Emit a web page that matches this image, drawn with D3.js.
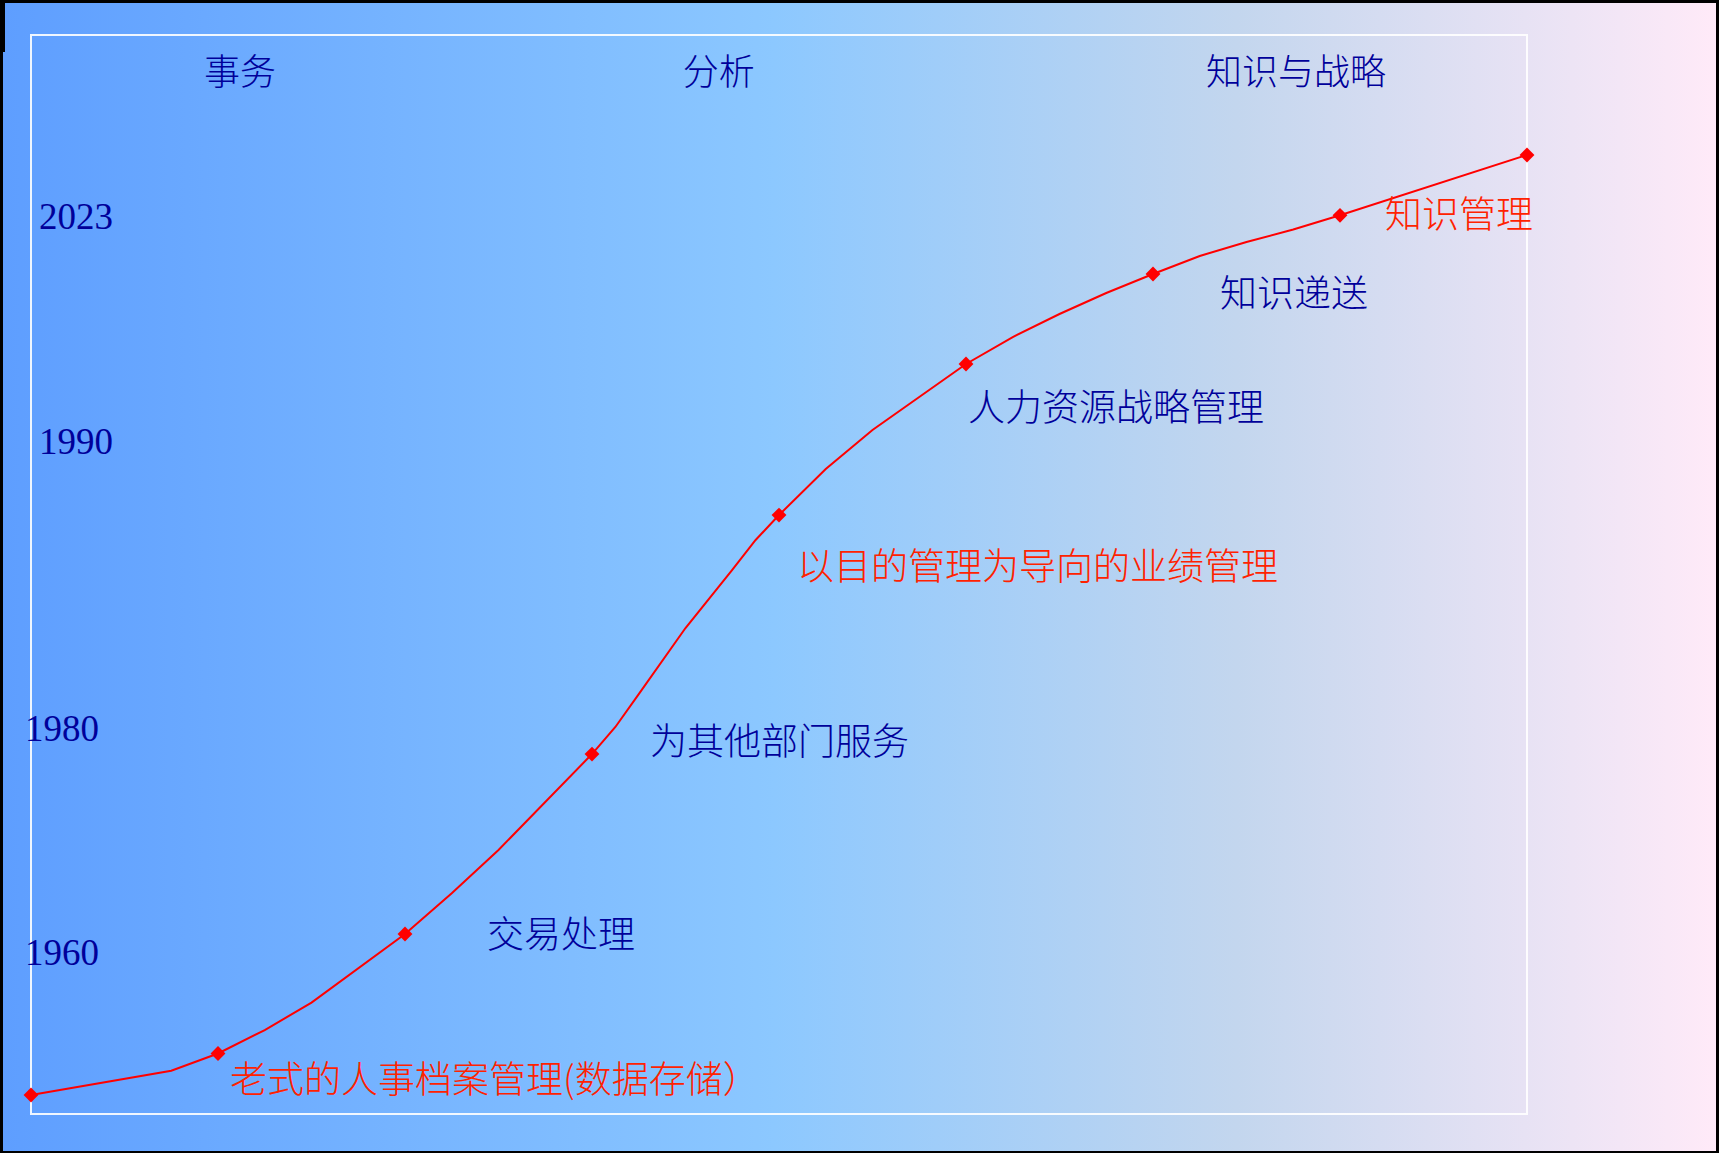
<!DOCTYPE html>
<html>
<head>
<meta charset="utf-8">
<script src="https://cdn.jsdelivr.net/npm/d3@7"></script>
<style>
  html, body { margin: 0; padding: 0; background: #000; }
  svg { display: block; }
</style>
</head>
<body>
<script>
// ---------------- data ----------------
// position along the timeline (0..32) and level of the curve vertices
const lineIndex = [0, 3, 4, 5, 6, 8, 9, 10, 12, 12.5, 13, 14, 15, 15.5, 16, 17, 18, 19, 20, 21, 22, 23, 24, 25, 26, 27, 28, 32];
const lineLevel = [1.76, 4.01, 5.61, 7.78, 10.32, 16.68, 20.45, 24.47, 33.36, 35.87, 38.92, 45.04, 50.42, 53.2, 55.51, 59.78, 63.39, 66.45, 69.51, 72.01, 74.14, 76.09, 77.85, 79.52, 80.82, 81.97, 83.29, 88.88];
// markers on the curve
const markerIndex = [0, 4, 8, 12, 16, 20, 24, 28, 32];
// milestone labels (attached to markers 4..28)
const milestoneIndex = [4, 8, 12, 16, 20, 24, 28];
const milestoneText = ["老式的人事档案管理(数据存储）", "交易处理", "为其他部门服务", "以目的管理为导向的业绩管理", "人力资源战略管理", "知识递送", "知识管理"];
const milestoneHighlight = [true, false, false, true, false, false, true];
// stage headers
const stageText = ["事务", "分析", "知识与战略"];
const stageIndex = [4.47, 14.71, 27.06];
// year labels on the left
const yearText = ["2023", "1990", "1980", "1960"];
const yearLevel = [82.0, 61.2, 34.6, 13.8];

// ---------------- layout / style ----------------
const W = 1719, H = 1153;
const frame = { left: 31, top: 35, right: 1527, bottom: 1114 };
const navy = "#00009a";
const red = "#ff2200";
// label offsets from their markers (dx, dy to baseline)
const milestoneOffset = [[12, 40], [82, 14], [58, 1], [18, 65], [2, 57], [67, 33], [45, 13]];

const svg = d3.select("body").append("svg").attr("width", W).attr("height", H);

const defs = svg.append("defs");
const grad = defs.append("linearGradient").attr("id", "bg").attr("x1", "0%").attr("x2", "100%").attr("y1", "0%").attr("y2", "0%");
[[0, "#5e9eff"], [0.45, "#8cc8ff"], [0.72, "#c3d6ee"], [1, "#ffeaf8"]].forEach(([o, c]) =>
  grad.append("stop").attr("offset", o).attr("stop-color", c));

svg.append("rect").attr("width", W).attr("height", H).attr("fill", "#000");
svg.append("rect").attr("x", 3).attr("y", 3).attr("width", W - 6).attr("height", H - 5).attr("fill", "url(#bg)");
svg.append("rect").attr("x", 0).attr("y", 0).attr("width", 5).attr("height", 52).attr("fill", "#000");

const x = d3.scaleLinear().domain([0, 32]).range([frame.left, frame.right]);
const y = d3.scaleLinear().domain([0, 100]).range([frame.bottom, frame.top]);

// frame
svg.append("rect")
  .attr("x", frame.left).attr("y", frame.top)
  .attr("width", frame.right - frame.left).attr("height", frame.bottom - frame.top)
  .attr("fill", "none").attr("stroke", "#ffffff").attr("stroke-width", 2).attr("stroke-opacity", 0.9);

const cjk = "'Noto Sans CJK SC', 'Liberation Serif', serif";
const serif = "'Liberation Serif', 'Times New Roman', serif";

// stage headers
svg.append("g").selectAll("text").data(stageText).join("text")
  .attr("x", (d, i) => x(stageIndex[i]))
  .attr("y", 85)
  .attr("text-anchor", "middle")
  .attr("font-family", cjk).attr("font-size", 36).attr("font-weight", 300).attr("fill", navy)
  .text(d => d);

// year labels
svg.append("g").selectAll("text").data(yearText).join("text")
  .attr("x", d => (+d >= 1990 ? frame.left + 8 : frame.left - 6))
  .attr("y", (d, i) => y(yearLevel[i]))
  .attr("font-family", serif).attr("font-size", 37).attr("fill", navy)
  .text(d => d);

// curve
const pts = lineIndex.map((v, i) => [v, lineLevel[i]]);
svg.append("path").datum(pts)
  .attr("d", d3.line().x(d => x(d[0])).y(d => y(d[1])))
  .attr("fill", "none").attr("stroke", "#ff0000").attr("stroke-width", 2);

const levelAt = idx => lineLevel[lineIndex.indexOf(idx)];

svg.append("g").selectAll("path").data(markerIndex).join("path")
  .attr("d", d3.symbol().type(d3.symbolSquare).size(110))
  .attr("transform", d => `translate(${x(d)},${y(levelAt(d))}) rotate(45)`)
  .attr("fill", "#ff0000");

// milestone labels
svg.append("g").selectAll("text").data(milestoneText).join("text")
  .attr("x", (d, i) => x(milestoneIndex[i]) + milestoneOffset[i][0])
  .attr("y", (d, i) => y(levelAt(milestoneIndex[i])) + milestoneOffset[i][1])
  .attr("font-family", cjk).attr("font-size", 37).attr("font-weight", 300)
  .attr("fill", (d, i) => milestoneHighlight[i] ? red : navy)
  .text(d => d);
</script>
</body>
</html>
